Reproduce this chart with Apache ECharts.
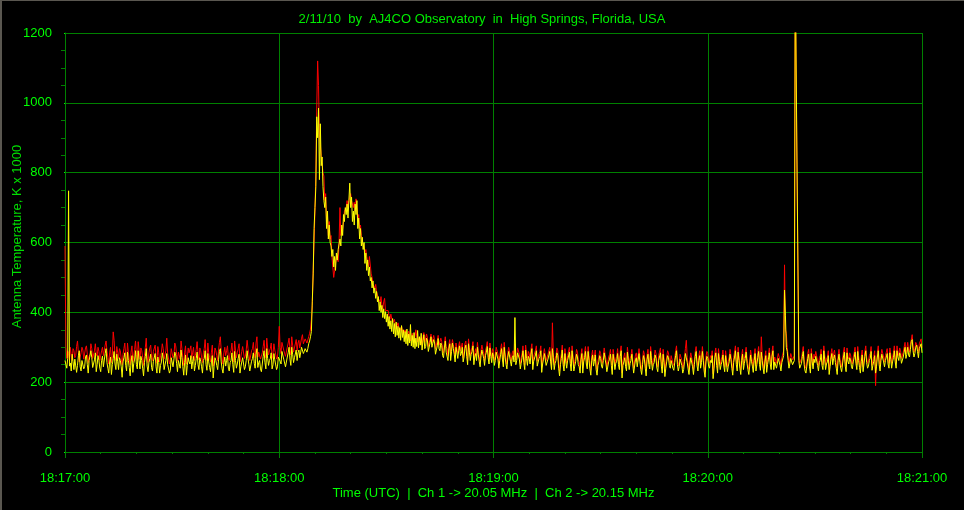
<!DOCTYPE html>
<html>
<head>
<meta charset="utf-8">
<script src="https://cdn.jsdelivr.net/npm/echarts@6/dist/echarts.min.js"></script>
<style>
html,body{margin:0;padding:0;background:#000;}
#c{position:absolute;left:0;top:0;width:964px;height:510px;}
#bt{position:absolute;left:0;top:0;width:964px;height:1px;background:#5a5750;}
#bl{position:absolute;left:0;top:0;width:2px;height:510px;background:#5a5750;}
</style>
</head>
<body>
<div id="c"></div>
<div id="bt"></div>
<div id="bl"></div>
<script>
const titleText = '2/11/10  by  AJ4CO Observatory  in  High Springs, Florida, USA';
const xAxisName = 'Time (UTC)  |  Ch 1 -> 20.05 MHz  |  Ch 2 -> 20.15 MHz';
const yAxisName = 'Antenna Temperature, K x 1000';
const xTickLabels = ['18:17:00','18:18:00','18:19:00','18:20:00','18:21:00'];
const sampleStep = 0.25; // seconds between samples, from 18:17:00

// Ch 1 (red)
const ch1 = [
590,300,268,290,282,262,300,276,262,296,290,270,276,302,318,284,258,272,284,300,
292,266,270,298,304,280,256,274,280,310,296,268,266,290,310,282,274,300,288,262,
262,290,300,276,278,306,318,290,270,252,284,300,256,276,344,320,276,262,302,286,
268,296,290,266,250,280,296,312,274,258,312,284,266,250,286,304,258,276,294,318,
280,262,316,290,266,298,290,270,248,276,300,326,272,256,284,298,306,270,262,288,
288,306,272,254,302,284,258,276,286,310,296,266,268,290,326,282,278,252,264,296,
294,270,276,312,304,280,260,286,290,266,318,296,270,248,284,304,252,272,298,284,
282,304,268,286,300,262,276,294,316,282,264,298,290,270,256,284,296,322,280,262,
312,284,270,258,286,306,246,272,298,290,276,262,292,314,330,290,266,252,284,300,
276,290,304,270,262,284,290,312,280,258,318,292,270,284,296,310,258,272,288,302,
300,268,274,292,320,296,280,262,266,290,296,314,282,270,312,330,272,286,290,266,
262,284,302,320,286,270,326,298,278,290,296,312,268,282,310,292,288,266,272,300,
360,300,282,314,318,292,292,274,270,300,312,326,294,278,330,306,286,298,302,322,
290,312,320,298,298,326,336,310,312,324,
326,312,310,330,340,352,380,420,520,600,690,800,985,1120,1050,900,880,850,850,800,
790,720,740,660,680,620,660,610,620,560,560,500,520,540,560,560,545,600,700,620,
620,640,660,690,690,700,720,700,700,730,740,720,720,700,715,690,725,700,660,680,
640,650,620,600,600,590,570,580,560,545,530,560,560,510,500,480,480,470,480,460,
450,440,440,430,445,420,410,430,440,405,400,410,405,390,380,395,390,370,365,380,
380,352,352,370,372,345,345,360,362,336,336,350,350,328,328,346,346,318,318,340,
340,312,312,350,350,315,315,330,330,318,
306,330,342,314,314,338,326,302,300,324,338,312,310,334,322,296,292,318,334,306,
302,326,316,290,284,310,330,302,296,276,308,322,276,300,322,308,292,270,312,296,
282,304,316,290,294,312,270,286,310,318,288,262,324,300,276,292,300,316,264,284,
296,276,314,290,274,258,290,306,306,282,262,290,300,316,284,266,312,288,270,296,
288,262,276,300,304,280,256,276,294,310,280,258,314,286,266,252,284,300,298,274,
260,284,290,272,310,264,276,298,302,280,252,268,284,304,270,250,306,282,262,288,
282,266,294,310,250,274,276,292,304,260,264,282,288,304,242,266,280,296,298,262,
258,280,284,300,272,250,370,284,250,268,276,298,290,254,232,264,282,306,264,246,
296,272,254,276,280,300,268,246,304,278,246,260,272,294,286,264,258,240,278,296,
240,272,284,302,266,252,302,276,252,234,276,292,260,274,292,250,234,262,272,290,
282,260,254,276,298,280,266,244,244,272,280,294,262,236,294,276,250,268,274,296,
264,250,288,304,226,262,272,284,258,246,300,276,250,268,276,294,266,240,244,278,
284,258,260,296,272,250,236,264,290,280,254,232,278,294,264,252,302,276,248,264,
270,292,282,254,244,276,276,298,260,240,294,270,230,254,272,290,284,262,254,276,
276,254,248,270,290,304,264,246,258,280,284,262,240,250,274,296,320,270,252,236,
266,284,280,258,236,264,288,302,262,246,276,290,254,270,302,276,246,228,272,288,
282,260,254,276,270,290,224,252,284,298,262,240,296,274,250,264,274,292,260,244,
290,266,244,260,272,294,278,254,234,270,286,304,264,246,300,276,254,236,276,294,
250,268,282,300,268,250,236,260,292,274,260,242,276,296,246,264,284,302,264,248,
330,276,254,238,272,290,242,264,280,298,266,250,288,304,250,272,276,254,258,282,
284,262,246,270,272,290,536,350,340,300,276,254,254,282,286,264,262,276,1380,1380,
800,800,276,254,250,268,288,302,264,246,240,260,282,294,258,240,296,272,252,280,
270,288,284,262,246,270,276,294,262,250,304,280,250,266,272,290,236,258,280,296,
264,282,292,270,254,236,276,294,270,254,244,266,286,300,260,244,298,274,266,284,
278,258,252,272,284,300,268,250,302,276,256,240,274,292,244,266,288,304,270,254,
260,276,282,302,248,262,274,290,190,258,286,304,264,246,276,294,294,272,258,276,
280,296,266,254,298,280,254,272,284,304,272,254,304,286,276,298,290,268,264,286,
300,314,282,294,314,292,286,308,322,336,304,286,296,314,318,302,284,310,306,324,
298
];

// Ch 2 (yellow)
const ch2 = [
262,250,240,268,748,246,255,232,280,258,236,266,270,228,248,276,290,244,232,262,
265,238,244,272,278,250,226,262,258,290,270,242,238,264,284,230,250,276,262,240,
230,262,275,244,248,282,296,256,240,226,258,272,222,250,268,288,252,236,280,260,
236,270,262,244,214,258,270,284,248,232,286,262,242,218,258,276,228,254,266,290,
250,238,290,262,238,274,262,240,218,256,274,296,246,230,256,268,280,242,232,260,
260,282,244,226,272,256,226,248,258,284,268,236,240,262,282,250,250,226,234,270,
266,244,248,286,278,254,230,262,262,240,292,270,244,220,256,278,220,248,270,258,
252,276,238,260,274,232,248,268,286,250,236,270,260,244,226,262,268,290,250,234,
282,258,242,230,258,276,212,246,270,262,248,236,264,288,296,258,238,226,256,272,
246,262,276,240,232,256,262,284,250,228,288,262,240,252,268,280,226,244,258,270,
272,236,244,262,290,268,250,232,236,260,268,284,254,240,280,296,242,256,262,238,
230,252,274,290,256,238,296,268,248,262,268,284,238,250,282,264,260,236,244,272,
276,260,252,288,290,266,262,244,240,272,284,300,266,248,300,280,256,270,274,292,
262,284,292,270,270,300,305,282,288,296,
300,286,296,310,318,330,345,430,510,640,700,760,960,900,985,780,940,820,845,760,
720,700,730,640,690,610,650,600,590,560,580,530,560,520,570,550,580,575,610,590,
650,620,680,660,700,680,710,670,720,770,700,730,660,690,650,710,680,720,640,670,
610,640,590,615,580,600,540,570,520,550,505,530,490,500,470,490,455,470,440,460,
430,445,405,430,400,420,385,410,382,402,372,395,360,388,352,376,345,382,338,368,
330,372,334,360,326,356,320,362,328,350,316,345,310,352,305,338,312,365,304,334,
300,342,296,326,302,348,298,330,306,340,
292,318,336,296,302,326,318,288,285,314,330,300,298,322,312,280,276,304,325,296,
290,312,305,276,270,298,318,286,284,262,296,310,262,288,312,296,280,258,300,284,
268,290,304,276,282,300,258,272,296,306,274,250,310,286,262,280,288,304,250,272,
282,262,300,278,260,244,276,292,292,268,248,276,286,302,270,252,298,274,256,284,
274,248,262,286,290,266,240,262,280,296,266,244,300,272,252,238,270,288,284,260,
246,270,276,258,385,250,262,284,288,266,238,254,270,290,256,236,292,268,248,274,
268,252,280,296,236,260,262,278,290,246,250,268,274,290,228,252,266,282,284,248,
244,266,270,288,258,236,296,270,236,254,262,284,276,240,218,250,268,292,250,232,
282,258,240,262,266,286,254,232,290,264,232,246,258,280,272,250,244,226,264,282,
226,258,270,288,252,238,288,262,238,220,262,278,246,260,278,236,220,248,258,276,
268,246,240,262,284,266,252,230,230,258,266,280,248,222,280,262,236,254,260,282,
250,236,274,290,212,248,258,270,244,232,286,262,236,254,262,280,252,226,230,264,
270,244,246,282,258,236,222,250,276,266,240,218,264,280,250,238,288,262,234,250,
256,278,268,240,230,262,262,284,246,226,280,256,216,240,258,276,270,248,240,262,
262,240,234,256,276,290,250,232,244,266,270,248,226,236,260,282,284,256,238,222,
252,270,266,244,222,250,274,288,248,232,262,276,240,256,288,262,232,214,258,274,
268,246,240,262,256,276,210,238,270,284,248,226,282,260,236,250,260,278,246,230,
276,252,230,246,258,280,264,240,220,256,272,290,250,232,286,262,240,222,262,280,
236,254,268,286,254,236,222,246,278,260,246,228,262,282,232,250,270,288,250,234,
286,262,240,224,258,276,228,250,266,284,252,236,274,290,236,258,262,240,244,268,
270,248,232,256,258,276,464,392,300,288,262,240,240,268,272,250,248,262,1400,1400,
822,820,262,240,236,254,274,288,250,232,226,246,268,280,244,226,282,258,238,266,
256,274,270,248,232,256,262,280,248,236,290,266,236,252,258,276,222,244,266,282,
250,268,278,256,240,222,262,280,256,240,230,252,272,286,246,230,284,260,252,270,
264,244,238,258,270,286,254,236,288,262,242,226,260,278,230,252,274,290,256,240,
246,262,268,288,234,248,260,276,226,244,272,290,250,232,262,280,280,258,244,262,
266,282,252,240,284,266,240,258,270,290,258,240,290,272,262,284,276,254,250,272,
286,300,268,280,300,278,272,294,316,322,290,272,282,300,306,288,270,296,292,310,
284
];

const toPairs = arr => arr.map((v, i) => [i * sampleStep, v]);

const green = '#00ff00';
const gridGreen = '#008000';
const font = '"Liberation Sans","Arial",sans-serif';

const chart = echarts.init(document.getElementById('c'), null, {renderer: 'canvas'});
chart.setOption({
  animation: false,
  backgroundColor: '#000',
  title: {
    text: titleText, left: 'center', top: 8,
    textStyle: {color: '#00ee00', fontSize: 13, fontWeight: 'normal', fontFamily: font}
  },
  grid: {left: 65, right: 42, top: 33, bottom: 58, containLabel: false, outerBoundsMode: 'none'},
  xAxis: [{
    type: 'value', min: 0, max: 240, interval: 60,
    name: xAxisName, nameLocation: 'middle', nameGap: 35, nameMoveOverlap: false,
    nameTextStyle: {color: green, fontSize: 13, fontFamily: font},
    axisLine: {show: true, lineStyle: {color: gridGreen, width: 1}},
    axisTick: {show: false},
    axisLabel: {color: green, fontSize: 13, fontFamily: font, margin: 20,
      formatter: v => xTickLabels[Math.round(v / 60)] || ''},
    splitLine: {show: true, lineStyle: {color: gridGreen, width: 1}}
  }, {
    type: 'value', min: 0, max: 240, interval: 60, position: 'bottom', offset: 5,
    axisLine: {show: false},
    axisTick: {show: true, length: 6, lineStyle: {color: gridGreen}},
    minorTick: {show: true, splitNumber: 6, length: 2, lineStyle: {color: gridGreen}},
    axisLabel: {show: false},
    splitLine: {show: false}
  }],
  yAxis: [{
    type: 'value', min: 0, max: 1200, interval: 200,
    name: yAxisName, nameLocation: 'middle', nameGap: 41, nameRotate: 90, nameMoveOverlap: false,
    nameTextStyle: {color: '#00dd00', fontSize: 13, fontFamily: font, padding: [0, 0, 0, 12]},
    axisLine: {show: true, lineStyle: {color: gridGreen, width: 1}},
    axisTick: {show: false},
    axisLabel: {color: green, fontSize: 13, fontFamily: font, margin: 13,
      formatter: v => String(v)},
    splitLine: {show: true, lineStyle: {color: gridGreen, width: 1}}
  }, {
    type: 'value', min: 0, max: 1200, interval: 200, position: 'left', offset: 4,
    axisLine: {show: false},
    axisTick: {show: true, length: 1, lineStyle: {color: green}},
    minorTick: {show: true, splitNumber: 4, length: 4, lineStyle: {color: gridGreen}},
    axisLabel: {show: false},
    splitLine: {show: false}
  }],
  series: [{
    name: 'Ch 1', type: 'line', data: toPairs(ch1), showSymbol: false,
    lineStyle: {color: '#ff0000', width: 1}, itemStyle: {color: '#ff0000'},
    clip: true, z: 2
  }, {
    name: 'Ch 2', type: 'line', data: toPairs(ch2), showSymbol: false,
    lineStyle: {color: '#ffff00', width: 1}, itemStyle: {color: '#ffff00'},
    clip: true, z: 3
  }]
});
</script>
</body>
</html>
